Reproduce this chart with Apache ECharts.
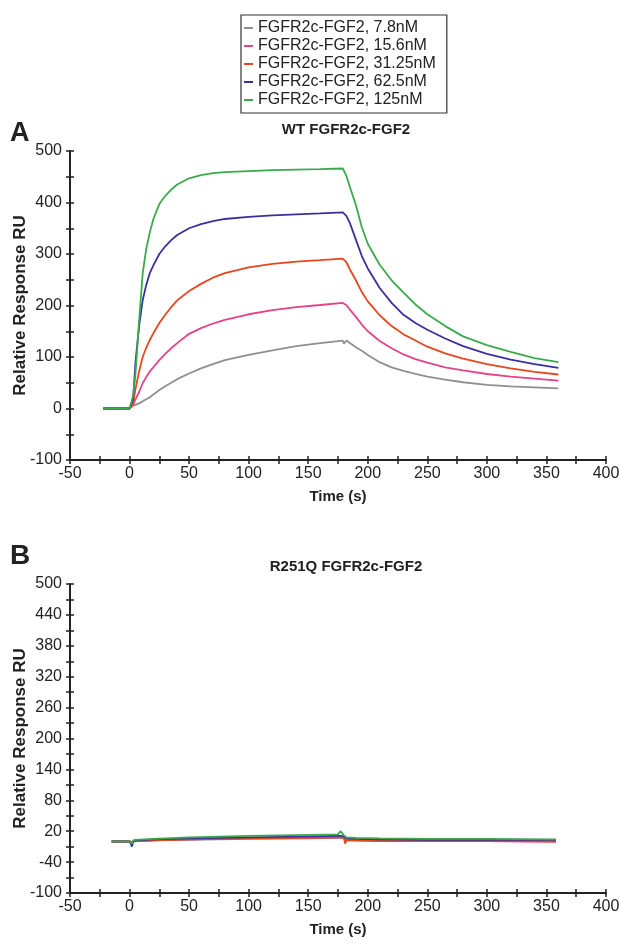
<!DOCTYPE html>
<html>
<head>
<meta charset="utf-8">
<script src="https://cdn.jsdelivr.net/npm/echarts@6/dist/echarts.min.js"></script>
<style>
html,body{margin:0;padding:0;background:#fff;}
#chart{width:620px;height:944px;}
</style>
</head>
<body>
<div id="chart"></div>
<script>
// ---- data ----
const seriesNames = ['FGFR2c-FGF2, 7.8nM','FGFR2c-FGF2, 15.6nM','FGFR2c-FGF2, 31.25nM','FGFR2c-FGF2, 62.5nM','FGFR2c-FGF2, 125nM'];
const seriesColors = ['#8f8f8f','#e4438a','#e8461e','#3b2f9e','#3aaa4c'];

// Panel A (WT) time points (s)
const tA = [-22,-10,0,1,3,5,8,11,14,17,20,25,30,35,40,50,60,70,80,100,120,140,160,179,180,182,185,190,195,200,210,220,230,240,250,265,280,300,320,340,360];
const wt_7_8   = [0,0,0,0,6,7,10,14,18,22,27,36,43,50,57,68,78,86,94,104,113,121,127,132,126,132,127,119,112,104,90,80,73,67,62,56,51,46,43,41,39];
const wt_15_6  = [0,0,0,0,6,18,32,49,61,72,80,94,106,117,127,145,156,165,172,183,191,197,201,205,206,201,192,178,163,150,131,117,105,96,89,80,74,67,62,58,54];
const wt_31_25 = [0,0,0,0,12,38,72,100,118,133,146,166,182,197,210,228,242,254,263,274,281,285,288,291,291,284,270,249,226,208,181,160,144,132,120,107,97,86,78,71,66];
const wt_62_5  = [0,0,0,0,18,90,160,210,240,263,278,300,315,327,337,350,358,364,368,372,375,377,379,381,381,374,360,328,296,272,234,205,182,166,153,136,121,106,95,86,79];
const wt_125   = [0,0,0,0,25,68,170,262,310,342,368,397,413,425,435,447,453,457,459,461,463,464,465,466,468,452,430,395,352,320,279,249,225,202,183,160,140,123,110,98,90];

// Panel B (R251Q) time points (s)
const tB = [-15,-5,0,1,2,3,5,20,50,100,150,175,177,178,180,181,182,190,210,250,300,358];
const mut_7_8   = [0,0,0,0,-1,0,1,2,3,5,6,7,7,7,6,3,2,2,1,1,1,1];
const mut_15_6  = [0,0,0,0,-1,0,1,2,4,6,7,8,8,8,8,3,2,2,1,1,1,0];
const mut_31_25 = [0,0,0,0,-1,0,1,2,4,6,7,8,8,8,7,-4,2,2,2,1,1,0];
const mut_62_5  = [0,0,0,-4,-10,0,2,4,6,8,10,11,11,11,10,7,6,5,4,3,3,3];
const mut_125   = [0,0,0,-2,-4,2,3,5,8,11,13,14,20,18,12,9,8,7,6,5,5,4];

// axis ticks
const xMin = -50, xMax = 400, xInterval = 50;
const yA = {min:-100, max:500, interval:100};
const yB = {min:-100, max:500, interval:60};

// ---- chart ----
const FONT = 'Liberation Sans, Arial, Helvetica, sans-serif';
const INK = '#222';
const chart = echarts.init(document.getElementById('chart'), null, {renderer:'canvas'});

function pair(t, v){ return t.map((x,i)=>[x, v[i]]); }

const grids = [
  {left:70, top:151, width:536, height:309, containLabel:false, outerBoundsMode:'none'},
  {left:70, top:584, width:536, height:309, containLabel:false, outerBoundsMode:'none'}
];

function xAxes(gi){
  const base = {
    type:'value', gridIndex:gi, min:xMin, max:xMax, interval:xInterval, position:'bottom',
    splitLine:{show:false}
  };
  return [
    Object.assign({}, base, {
      name:'Time (s)', nameLocation:'middle', nameGap:29, nameMoveOverlap:false,
      nameTextStyle:{fontFamily:FONT, fontWeight:'bold', fontSize:15, color:INK},
      axisLine:{show:true, onZero:false, lineStyle:{color:INK, width:2}},
      axisTick:{show:true, inside:false, length:4, lineStyle:{color:INK, width:1.5}},
      minorTick:{show:true, splitNumber:2, length:4, lineStyle:{color:INK, width:1.5}},
      axisLabel:{fontFamily:FONT, fontSize:16, color:INK, margin:6}
    }),
    Object.assign({}, base, {
      axisLine:{show:false, onZero:false},
      axisTick:{show:true, inside:true, length:4, lineStyle:{color:INK, width:1.5}},
      minorTick:{show:true, splitNumber:2, length:4, lineStyle:{color:INK, width:1.5}},
      axisLabel:{show:false}
    })
  ];
}
function yAxes(gi, cfg){
  const base = {
    type:'value', gridIndex:gi, min:cfg.min, max:cfg.max, interval:cfg.interval, position:'left',
    splitLine:{show:false}
  };
  return [
    Object.assign({}, base, {
      name:'Relative Response RU', nameLocation:'middle', nameGap:41, nameMoveOverlap:false,
      nameTextStyle:{fontFamily:FONT, fontWeight:'bold', fontSize:17, color:INK},
      axisLine:{show:true, onZero:false, lineStyle:{color:INK, width:2}},
      axisTick:{show:true, inside:false, length:4, lineStyle:{color:INK, width:1.5}},
      minorTick:{show:true, splitNumber:2, length:4, lineStyle:{color:INK, width:1.5}},
      axisLabel:{fontFamily:FONT, fontSize:16, color:INK, margin:8}
    }),
    Object.assign({}, base, {
      axisLine:{show:false, onZero:false},
      axisTick:{show:true, inside:true, length:4, lineStyle:{color:INK, width:1.5}},
      minorTick:{show:true, splitNumber:2, length:4, lineStyle:{color:INK, width:1.5}},
      axisLabel:{show:false}
    })
  ];
}

const dataA = [wt_7_8, wt_15_6, wt_31_25, wt_62_5, wt_125];
const dataB = [mut_7_8, mut_15_6, mut_31_25, mut_62_5, mut_125];

const series = [];
dataA.forEach((v,i)=>series.push({
  type:'line', name:seriesNames[i], xAxisIndex:0, yAxisIndex:0,
  data:pair(tA, v), showSymbol:false, symbol:'none', smooth:false,
  lineStyle:{color:seriesColors[i], width:1.8}, itemStyle:{color:seriesColors[i]},
  z: 2+i, animation:false
}));
dataB.forEach((v,i)=>series.push({
  type:'line', name:seriesNames[i], xAxisIndex:2, yAxisIndex:2,
  data:pair(tB, v), showSymbol:false, symbol:'none', smooth:false,
  lineStyle:{color:seriesColors[i], width:1.8}, itemStyle:{color:seriesColors[i]},
  z: 2+i, animation:false
}));

chart.setOption({
  animation:false,
  backgroundColor:'#fff',
  textStyle:{fontFamily:FONT},
  grid: grids,
  xAxis: [].concat(xAxes(0), xAxes(1)),
  yAxis: [].concat(yAxes(0, yA), yAxes(1, yB)),
  legend:{
    data:seriesNames, orient:'vertical', left:241, top:15,
    padding:[5,11,5,3], itemGap:2, itemWidth:9, itemHeight:2, icon:'rect',
    borderColor:'#333', borderWidth:1.2, backgroundColor:'#fff',
    textStyle:{fontFamily:FONT, fontSize:16, color:INK, lineHeight:16, padding:[0,0,0,0]},
    selectedMode:false
  },
  graphic:[
    {type:'text', left:10, top:120, style:{text:'A', font:'bold 27px '+FONT, fill:INK}},
    {type:'text', left:10, top:542, style:{text:'B', font:'bold 28px '+FONT, fill:INK}},
    {type:'text', x:346, y:130, style:{text:'WT FGFR2c-FGF2', font:'bold 15px '+FONT, fill:INK, textAlign:'center', textVerticalAlign:'middle'}},
    {type:'text', x:346, y:567, style:{text:'R251Q FGFR2c-FGF2', font:'bold 15px '+FONT, fill:INK, textAlign:'center', textVerticalAlign:'middle'}}
  ],
  series: series
});
</script>
</body>
</html>
